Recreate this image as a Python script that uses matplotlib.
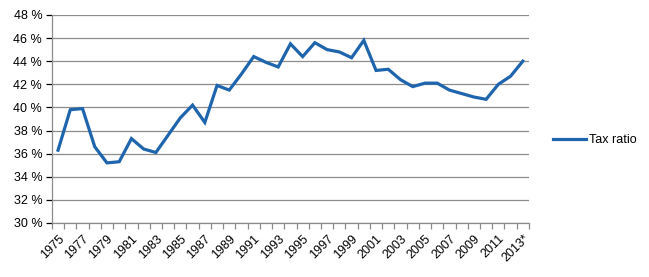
import numpy as np
import matplotlib
matplotlib.use("Agg")
import matplotlib.pyplot as plt
from matplotlib.ticker import FixedLocator, FuncFormatter

years = [str(y) for y in range(1975, 2013)] + ["2013*"]
tax_ratio = [36.3, 39.8, 39.9, 36.6, 35.2, 35.3, 37.3, 36.4, 36.1, 37.6,
             39.1, 40.2, 38.7, 41.9, 41.5, 42.9, 44.4, 43.9, 43.5, 45.5,
             44.4, 45.6, 45.0, 44.8, 44.3, 45.8, 43.2, 43.3, 42.4, 41.8,
             42.1, 42.1, 41.5, 41.2, 40.9, 40.7, 42.0, 42.7, 44.0]

plt.rcParams['font.family'] = ['Liberation Sans', 'DejaVu Sans']
grey = '#8c8c8c'

fig = plt.figure(figsize=(6.49, 2.77), dpi=100)
ax = fig.add_axes([0.080, 0.195, 0.735, 0.751])

x = np.arange(len(years))
ax.plot(x, tax_ratio, color='#1f65ad', lw=2.3, label='Tax ratio', solid_joinstyle='miter')

ax.set_xlim(-0.5, len(years) - 0.5)
ax.set_ylim(30, 48)
ax.set_yticks(np.arange(30, 49, 2))
ax.yaxis.set_major_formatter(FuncFormatter(lambda v, p: '%d %%' % v))
ax.yaxis.grid(True, color=grey, lw=0.9)
ax.set_axisbelow(True)

# category labels every other year, tick marks between categories
ax.set_xticks(x[::2])
ax.set_xticklabels(years[::2], rotation=45, ha='right', va='top', rotation_mode='anchor')
ax.xaxis.set_minor_locator(FixedLocator(np.arange(-0.5, len(years), 1)))
ax.tick_params(axis='x', which='major', length=0, pad=7)
ax.tick_params(axis='x', which='minor', length=4, color=grey, width=0.9)
ax.tick_params(axis='y', length=4, color=grey, width=0.9, pad=3)
ax.tick_params(labelsize=9, colors='black')

for s in ['top', 'right']:
    ax.spines[s].set_visible(False)
for s in ['left', 'bottom']:
    ax.spines[s].set_color(grey)
    ax.spines[s].set_linewidth(0.9)

fig.legend(loc='center left', bbox_to_anchor=(0.835, 0.495), frameon=False,
           fontsize=9, handlelength=2.6, handletextpad=0.25)

fig.savefig('out.png', dpi=100)
